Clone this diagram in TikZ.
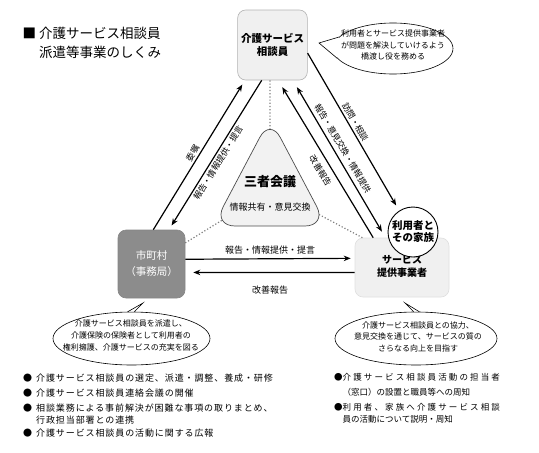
\documentclass[tikz,border=0pt]{standalone}
\usepackage{fontspec}
\setmainfont{Noto Sans CJK JP}
\newfontfamily\listfont{Noto Sans CJK JP}[LetterSpace=10]
\usetikzlibrary{arrows.meta,shapes.geometric}

\begin{document}
\begin{tikzpicture}[x=1pt, y=-1pt, >=Stealth,
  arr/.style={line width=1.2pt, -{Stealth[length=7pt,width=5.5pt]}},
  arrb/.style={line width=1.2pt, {Stealth[length=7pt,width=5.5pt]}-{Stealth[length=7pt,width=5.5pt]}},
  lbl/.style={font=\fontsize{8.5}{10}\selectfont, sloped, inner sep=2pt},
  box/.style={draw=gray!60, line width=0.6pt, rounded corners=8pt, fill=gray!12, align=center},
  callout/.style={draw, ellipse, line width=0.6pt, fill=white, inner sep=0pt},
  ctext/.style={align=center, font=\fontsize{8}{12}\selectfont},
  dots/.style={gray, dotted, line width=1.2pt}]

\useasboundingbox (0,0) rectangle (539,453);

% title
\node[anchor=west, align=left, font=\fontsize{13.5}{19}\selectfont] (title) at (19,42.5)
  {■ 介護サービス相談員\\\phantom{■ }派遣等事業のしくみ};

% the three parties
\node[box, minimum width=69pt, minimum height=70pt, font=\fontsize{10.5}{13}\selectfont\bfseries] (sou) at (272.5,45) {介護サービス\\相談員};
\node[box, draw=gray!95, fill=gray!90, text=white, minimum width=67pt, minimum height=68pt, font=\fontsize{10.5}{16}\selectfont] (shi) at (151.5,264) {市町村\\（事務局）};
\node[box, draw=gray!25, minimum width=94pt, minimum height=59pt, font=\fontsize{10}{13}\selectfont\bfseries] (jig) at (402,267.5)
  {\raisebox{-6pt}{\begin{tabular}{@{}c@{}}サービス\\提供事業者\end{tabular}}};
\node[circle, draw, line width=0.9pt, fill=white, minimum size=50pt, inner sep=0pt, align=center, font=\fontsize{10.5}{12}\selectfont\bfseries] (fam) at (413,232) {利用者と\\その家族};

% meeting in the middle
\coordinate (tri-top) at (270,140);
\coordinate (tri-l) at (224,219);
\coordinate (tri-r) at (318,214);
\draw[dots] (sou.-94) -- (tri-top);
\draw[dots] (shi.32) -- (tri-l);
\draw[dots] (jig.143) -- (tri-r);
\filldraw[fill=gray!10, draw=gray!60!black, line width=0.7pt, rounded corners=22pt] (270,118) -- (327,226) -- (213,226) -- cycle;
\node[font=\fontsize{13}{15}\selectfont\bfseries] (san) at (270,182) {三者会議};
\node[font=\fontsize{9}{11}\selectfont] (kou) at (270,207) {情報共有・意見交換};

% arrows
\draw[arr, shorten >=5pt] (shi.87) -- node[lbl, above, pos=.49] {委嘱} (sou.-128);
\draw[arr, shorten >=5pt] (sou.-107) -- node[lbl, below, pos=.53] {報告・情報提供・提言} (shi.63);
\draw[arr, shorten >=8pt] (jig.134) -- node[lbl, below=4pt, pos=.46] {改善報告} (sou.-81);
\draw[arrb, shorten >=7pt, shorten <=8pt] (sou.-60) -- node[lbl, above=2pt, pos=.46] {報告・意見交換・情報提供} (jig.119.2);
\draw[arr, shorten >=6pt] (sou.-13) -- node[lbl, above, pos=.46] {訪問・相談} (fam.123);
\draw[arr, shorten >=4pt] (shi.8.4) -- node[above=1pt, font=\fontsize{9}{10}\selectfont] {報告・情報提供・提言} (jig.169.7);
\draw[arr, shorten >=8pt] (jig.186.67) -- node[below=10pt, font=\fontsize{9}{10}\selectfont] {改善報告} (shi.-14.83);

% callouts
\node[callout, minimum width=120pt, minimum height=51pt] (callT) at (393,48.5) {};
\coordinate (tipT) at (319,43);
\fill[white] (callT.168) -- (tipT) -- (callT.190) -- cycle;
\draw[line width=0.6pt] (callT.168) -- (tipT) -- (callT.190);
\node[ctext, font=\fontsize{8}{11.5}\selectfont] (callT-txt) at (393,45) {利用者とサービス提供事業者\\が問題を解決していけるよう\\橋渡し役を務める};

\node[callout, minimum width=157pt, minimum height=53pt] (callL) at (131.5,338.5) {};
\coordinate (tipL) at (143,303);
\fill[white] (callL.84) -- (tipL) -- (callL.98) -- cycle;
\draw[line width=0.6pt] (callL.84) -- (tipL) -- (callL.98);
\node[ctext] (callL-txt) at (131,335) {介護サービス相談員を派遣し、\\介護保険の保険者として利用者の\\権利擁護、介護サービスの充実を図る};

\node[callout, minimum width=162pt, minimum height=53pt] (callR) at (416,338.5) {};
\coordinate (tipR) at (405,303);
\fill[white] (callR.83) -- (tipR) -- (callR.95) -- cycle;
\draw[line width=0.6pt] (callR.83) -- (tipR) -- (callR.95);
\node[ctext, font=\fontsize{8}{11.5}\selectfont] (callR-txt) at (418,336.5) {介護サービス相談員との協力、\\意見交換を通じて、サービスの質の\\さらなる向上を目指す};

% lists
\foreach \yy/\txt [count=\i] in {
  378/{●\hspace{4pt}介護サービス相談員の選定、派遣・調整、養成・研修},
  393/{●\hspace{4pt}介護サービス相談員連絡会議の開催},
  408/{●\hspace{4pt}相談業務による事前解決が困難な事項の取りまとめ、},
  420/{\hphantom{●}\hspace{4pt}行政担当部署との連携},
  433/{●\hspace{4pt}介護サービス相談員の活動に関する広報}}
  \node[anchor=west, inner sep=0pt, font=\listfont\fontsize{9}{10}\selectfont] (left\i) at (23,\yy) {\txt};

\node[anchor=west, inner sep=0pt, font=\fontsize{8.5}{10}\selectfont] (right1) at (334,377) {●{\addfontfeature{LetterSpace=25}介護サービス相談員活動の担当者}};
\node[anchor=west, inner sep=0pt, font=\fontsize{8.5}{10}\selectfont] (right2) at (334,392) {\hphantom{●}（窓口）の設置と職員等への周知};
\node[anchor=west, inner sep=0pt, font=\fontsize{8.5}{10}\selectfont] (right3) at (334,407) {●{\addfontfeature{LetterSpace=25}利用者、家族へ介護サービス相談}};
\node[anchor=west, inner sep=0pt, font=\fontsize{8.5}{10}\selectfont] (right4) at (334,419) {\hphantom{●}員の活動について説明・周知};
\end{tikzpicture}
\end{document}
